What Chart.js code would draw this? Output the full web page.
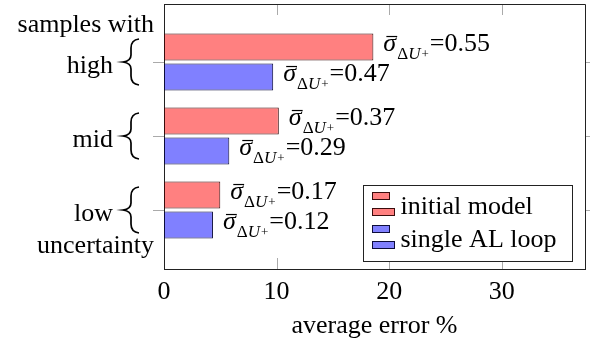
<!DOCTYPE html>
<html>
<head>
<meta charset="utf-8">
<script src="https://cdn.jsdelivr.net/npm/chart.js@4.4.0/dist/chart.umd.min.js"></script>
<style>
  html, body { margin: 0; padding: 0; background: #fff; }
  #wrap { width: 590px; height: 342px; }
</style>
</head>
<body>
<div id="wrap"><canvas id="myChart"></canvas></div>
<script>
// data
const categories = ['high', 'mid', 'low'];
const labelAbove = 'samples with';
const labelBelow = 'uncertainty';
const seriesNames = ['initial model', 'single AL loop'];
const initialModel = [18.6, 10.2, 5.0];
const singleAlLoop = [9.7, 5.8, 4.35];
const sigmaInitial = ['0.55', '0.37', '0.17'];
const sigmaAlLoop = ['0.47', '0.29', '0.12'];
const xTicks = [0, 10, 20, 30];
const xMax = 37.4;

const FONT = '"Liberation Serif", "Times New Roman", serif';
const fills = ['#ff8080', '#8080ff'];
const edges = ['#3a0c0c', '#0c0c3a'];

const ctx = document.getElementById('myChart');

/**
 * sigma-bar annotation: σ̄_{ΔU+}=value
 */
function drawSigma(c, x, yc, val) {
    const base = yc + 4;
    c.fillStyle = '#000';
    c.textAlign = 'left';
    c.textBaseline = 'alphabetic';
    c.font = 'italic 26px ' + FONT;
    c.fillText('σ', x, base);
    let w = c.measureText('σ').width;
    c.strokeStyle = '#000';
    c.lineWidth = 1.2;
    c.beginPath();
    c.moveTo(x + 3, base - 14.5);
    c.lineTo(x + w + 1, base - 14.5);
    c.stroke();
    x += w + 1;
    c.font = '17px ' + FONT;
    c.fillText('Δ', x, base + 8);
    x += c.measureText('Δ').width;
    c.font = 'italic 17px ' + FONT;
    c.fillText('U', x, base + 8);
    x += c.measureText('U').width + 1;
    c.font = '13px ' + FONT;
    c.fillText('+', x, base + 7);
    x += c.measureText('+').width + 1;
    c.font = '26px ' + FONT;
    c.fillText('=' + val, x, base);
}

function drawBrace(c, x, y) {
    c.strokeStyle = '#000';
    c.lineWidth = 1.7;
    c.beginPath();
    c.moveTo(x + 16, y - 23);
    c.quadraticCurveTo(x + 8, y - 22, x + 8, y - 14);
    c.lineTo(x + 8, y - 7);
    c.quadraticCurveTo(x + 8, y - 1, x, y);
    c.quadraticCurveTo(x + 8, y + 1, x + 8, y + 7);
    c.lineTo(x + 8, y + 14);
    c.quadraticCurveTo(x + 8, y + 22, x + 16, y + 23);
    c.stroke();
}

const decorations = {
    id: 'decorations',
    beforeDatasetsDraw(chart) {
        const c = chart.ctx;
        const a = chart.chartArea;
        const xs = chart.scales.x;
        const ys = chart.scales.y;
        c.save();
        // inner x ticks (top and bottom), outer y ticks on the right
        c.strokeStyle = '#aaa';
        c.lineWidth = 1;
        c.beginPath();
        xTicks.forEach(t => {
            if (t === 0) return;
            const px = Math.round(xs.getPixelForValue(t)) + 0.5;
            c.moveTo(px, a.top); c.lineTo(px, a.top + 11);
            c.moveTo(px, a.bottom); c.lineTo(px, a.bottom - 11);
        });
        categories.forEach((_, i) => {
            const py = Math.round(ys.getPixelForValue(i)) + 0.5;
            c.moveTo(a.right, py); c.lineTo(a.right + 11, py);
        });
        c.stroke();
        // top and right frame
        c.strokeStyle = '#222';
        c.beginPath();
        c.moveTo(Math.round(a.left) + 0.5, Math.round(a.top) + 0.5);
        c.lineTo(Math.round(a.right) + 0.5, Math.round(a.top) + 0.5);
        c.lineTo(Math.round(a.right) + 0.5, Math.round(a.bottom) + 0.5);
        c.stroke();

        // category labels with braces
        c.fillStyle = '#000';
        c.font = '26px ' + FONT;
        c.textAlign = 'right';
        c.textBaseline = 'alphabetic';
        categories.forEach((name, i) => {
            const py = ys.getPixelForValue(i);
            c.fillText(name, a.left - 51, py + 11);
            drawBrace(c, a.left - 41, py);
        });
        c.fillText(labelAbove, a.left - 10, ys.getPixelForValue(0) - 30);
        c.fillText(labelBelow, a.left - 10, ys.getPixelForValue(categories.length - 1) + 43);
        c.restore();
    },
    afterDatasetsDraw(chart) {
        const c = chart.ctx;
        const a = chart.chartArea;
        c.save();
        const sigmas = [sigmaInitial, sigmaAlLoop];
        chart.data.datasets.forEach((ds, d) => {
            chart.getDatasetMeta(d).data.forEach((bar, i) => {
                drawSigma(c, bar.x + 10, bar.y, sigmas[d][i]);
            });
        });

        // legend
        const w = 209, h = 76;
        const lx = Math.round(a.right - 13 - w) + 0.5;
        const ly = Math.round(a.bottom - 8 - h) + 0.5;
        c.fillStyle = '#fff';
        c.fillRect(lx, ly, w, h);
        c.strokeStyle = '#222';
        c.lineWidth = 1;
        c.strokeRect(lx, ly, w, h);
        chart.data.datasets.forEach((ds, d) => {
            const ry = ly + d * 33;
            c.fillStyle = ds.backgroundColor;
            c.strokeStyle = ds.borderColor;
            c.fillRect(lx + 9, ry + 7, 17, 7);
            c.strokeRect(lx + 9, ry + 7, 17, 7);
            c.fillRect(lx + 9, ry + 23, 22, 7);
            c.strokeRect(lx + 9, ry + 23, 22, 7);
            c.fillStyle = '#000';
            c.font = '26px ' + FONT;
            c.textAlign = 'left';
            c.textBaseline = 'alphabetic';
            c.fillText(ds.label, lx + 37, ry + 28);
        });
        c.restore();
    }
};

new Chart(ctx, {
    type: 'bar',
    data: {
        datasets: [initialModel, singleAlLoop].map((vals, d) => ({
            label: seriesNames[d],
            data: vals.map((v, i) => ({ x: v, y: i })),
            backgroundColor: fills[d],
            borderColor: edges[d],
            borderWidth: 1,
            borderSkipped: false,
            categoryPercentage: 60 / 74,
            barPercentage: 0.9,
        })),
    },
    options: {
        indexAxis: 'y',
        responsive: true,
        maintainAspectRatio: false,
        animation: false,
        layout: { padding: { top: 4, right: 5, left: 0, bottom: 0 } },
        plugins: {
            legend: { display: false },
            tooltip: { enabled: false },
        },
        scales: {
            x: {
                type: 'linear',
                min: 0,
                max: xMax,
                afterBuildTicks: s => { s.ticks = xTicks.map(v => ({ value: v })); },
                afterFit: s => { s.height = 73; },
                grid: { display: false },
                border: { display: true, color: '#222', width: 1 },
                ticks: {
                    color: '#000',
                    padding: 0,
                    font: { family: FONT, size: 26 },
                },
                title: {
                    display: true,
                    text: 'average error %',
                    color: '#000',
                    font: { family: FONT, size: 26 },
                    padding: { top: 0, bottom: 0 },
                },
            },
            y: {
                type: 'linear',
                reverse: true,
                offset: false,
                min: -0.784,
                max: 2.797,
                afterBuildTicks: s => { s.ticks = categories.map((_, i) => ({ value: i })); },
                afterFit: s => { s.width = 164; },
                grid: { display: true, offset: false, drawOnChartArea: false, drawTicks: true, tickLength: 11, color: '#aaa' },
                border: { display: true, color: '#222', width: 1 },
                ticks: { display: false },
            },
        },
    },
    plugins: [decorations],
});
</script>
</body>
</html>
